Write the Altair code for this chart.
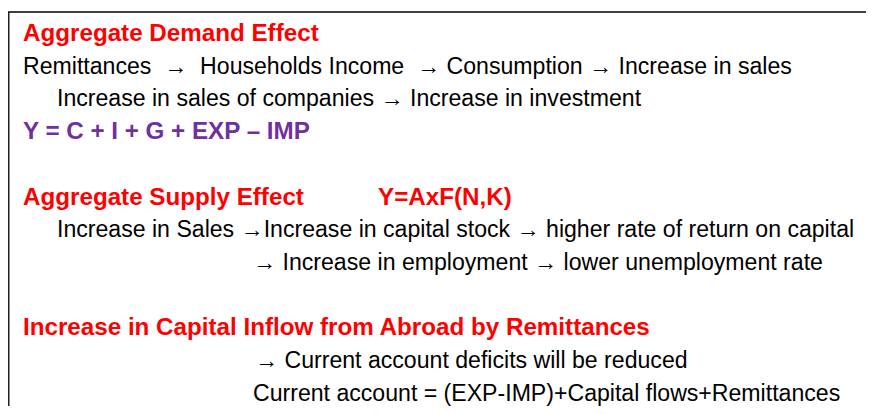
import altair as alt
import pandas as pd

# ---- slide content ----
texts = [
    "Aggregate Demand Effect",
    "Remittances \u00a0\u2192 \u00a0Households Income \u00a0\u2192 Consumption \u2192 Increase in sales",
    "Increase in sales of companies \u2192 Increase in investment",
    "Y = C + I + G + EXP \u2013 IMP",
    "Aggregate Supply Effect",
    "Y=AxF(N,K)",
    "Increase in Sales \u2192Increase in capital stock \u2192 higher rate of return on capital",
    "\u2192 Increase in employment \u2192 lower unemployment rate",
    "Increase in Capital Inflow from Abroad by Remittances",
    "\u2192 Current account deficits will be reduced",
    "Current account = (EXP-IMP)+Capital flows+Remittances",
]
rows = [0, 1, 2, 3, 5, 5, 6, 7, 9, 10, 11]
cols = [15, 15, 49, 15, 15, 370, 49, 245, 15, 247, 245]
kinds = ["heading", "body", "body", "formula", "heading", "heading",
         "body", "body", "heading", "body", "body"]

df = pd.DataFrame({"text": texts, "row": rows, "col": cols, "kind": kinds})

W, H = 858, 398
FONT = "Liberation Sans, Arial, sans-serif"

x_enc = alt.X("col:Q", scale=alt.Scale(domain=[0, W], range=[0, W]), axis=None)
y_enc = alt.Y("row:Q", scale=alt.Scale(domain=[0, 11], range=[33, 392.7]), axis=None)

base = alt.Chart(df)

bold = base.transform_filter(alt.datum.kind != "body").mark_text(
    align="left", baseline="alphabetic", font=FONT, fontSize=24.2, fontWeight="bold"
).encode(
    x=x_enc, y=y_enc, text="text:N",
    color=alt.Color("kind:N", scale=alt.Scale(domain=["heading", "formula"],
                                               range=["#FF0000", "#7030A0"]), legend=None),
)

body = base.transform_filter(alt.datum.kind == "body").mark_text(
    align="left", baseline="alphabetic", font=FONT, fontSize=23.1, color="#000000"
).encode(x=x_enc, y=y_enc, text="text:N")

frame_src = alt.Chart(pd.DataFrame({"k": [0]}))
top_line = frame_src.mark_rule(color="#404040", strokeWidth=2).encode(
    x=alt.value(0), x2=alt.value(W), y=alt.value(4))
left_line = frame_src.mark_rule(color="#202020", strokeWidth=2).encode(
    x=alt.value(0.5), y=alt.value(4), y2=alt.value(H))

chart = alt.layer(top_line, left_line, bold, body).properties(
    width=W, height=H, padding=0, autosize=alt.AutoSizeParams(type="none"),
    background="white",
).configure_view(stroke=None)

chart.save("out.html", embed_options={"renderer": "svg", "actions": False})
